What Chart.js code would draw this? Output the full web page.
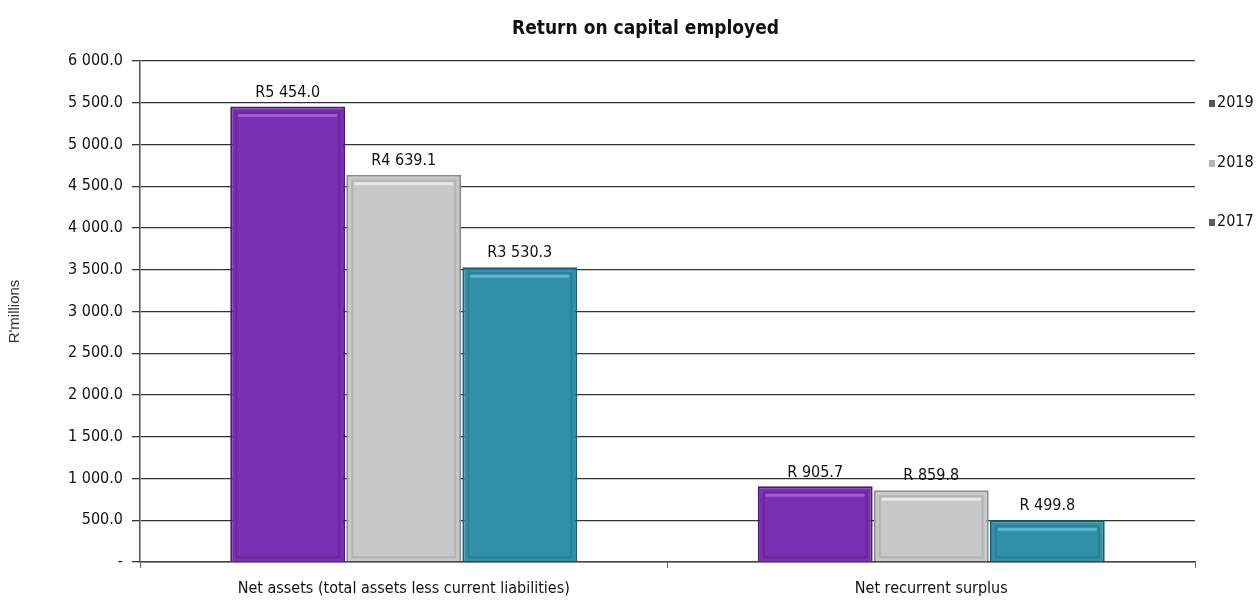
<!DOCTYPE html>
<html>
<head>
<meta charset="utf-8">
<script src="https://cdn.jsdelivr.net/npm/chart.js@4/dist/chart.umd.min.js"></script>
<style>
  html, body { margin: 0; padding: 0; background: #fff; }
  #wrap { width: 1259px; height: 603px; position: relative; }
</style>
</head>
<body>
<div id="wrap"><canvas id="roceChart"></canvas></div>
<script>
const FONT = '"Liberation Sans Narrow", "Arial Narrow", "DejaVu Sans Condensed", "Liberation Sans", sans-serif';

const categorias = ['Net assets (total assets less current liabilities)', 'Net recurrent surplus'];
const anios = ['2019', '2018', '2017'];
const valores2019 = [5454.0, 905.7];
const valores2018 = [4639.1, 859.8];
const valores2017 = [3530.3, 499.8];
const ticksY = [0, 500, 1000, 1500, 2000, 2500, 3000, 3500, 4000, 4500, 5000, 5500, 6000];

// relleno, borde oscuro, brillo
const colores = {
  '2019': { fill: '#7a30b2', border: '#4a1876', light: '#a45ad6', legend: '#555555' },
  '2018': { fill: '#c8c8c8', border: '#8c8c8c', light: '#e8e8e8', legend: '#b5b5b5' },
  '2017': { fill: '#3390ab', border: '#1b5e70', light: '#5fb8d2', legend: '#5a5a5a' }
};

function formatMiles(v) {
  const [ent, dec] = v.toFixed(1).split('.');
  return ent.replace(/\B(?=(\d{3})+(?!\d))/g, ' ') + '.' + dec;
}
function formatRand(v) {
  return v >= 1000 ? 'R' + formatMiles(v) : 'R ' + formatMiles(v);
}

const seriesData = [valores2019, valores2018, valores2017];

// título centrado un poco a la izquierda del área del gráfico
const tituloPlugin = {
  id: 'tituloPlugin',
  afterDraw(chart) {
    const { ctx, chartArea } = chart;
    ctx.save();
    ctx.font = 'bold 19px ' + FONT;
    ctx.fillStyle = '#111';
    ctx.textAlign = 'center';
    ctx.textBaseline = 'middle';
    ctx.fillText('Return on capital employed', (chartArea.left + chartArea.right) / 2 - 22, 29);
    ctx.restore();
  }
};

// bisel de las barras + etiquetas de valor
const barrasPlugin = {
  id: 'barrasPlugin',
  afterDatasetsDraw(chart) {
    const { ctx } = chart;
    chart.data.datasets.forEach((ds, i) => {
      const meta = chart.getDatasetMeta(i);
      const c = colores[ds.label];
      meta.data.forEach((bar, j) => {
        const left = bar.x - bar.width / 2;
        const right = bar.x + bar.width / 2;
        const top = bar.y;
        const bottom = bar.base;
        ctx.save();
        // brillo superior
        ctx.strokeStyle = c.light;
        ctx.lineWidth = 3;
        ctx.beginPath();
        ctx.moveTo(left + 8, top + 9);
        ctx.lineTo(right - 8, top + 9);
        ctx.stroke();
        // marco interior
        ctx.strokeStyle = c.border;
        ctx.globalAlpha = 0.35;
        ctx.lineWidth = 2;
        ctx.strokeRect(left + 6, top + 6, right - left - 12, bottom - top - 10);
        ctx.restore();

        ctx.save();
        ctx.font = '16px ' + FONT;
        ctx.fillStyle = '#111';
        ctx.textAlign = 'center';
        ctx.textBaseline = 'bottom';
        ctx.fillText(formatRand(ds.data[j]), bar.x, top - 6);
        ctx.restore();
      });
    });
  }
};

// leyenda a la derecha
const leyendaPlugin = {
  id: 'leyendaPlugin',
  afterDraw(chart) {
    const { ctx, chartArea } = chart;
    const yPos = [103, 163, 222];
    ctx.save();
    ctx.font = '16px ' + FONT;
    ctx.textBaseline = 'middle';
    ctx.textAlign = 'left';
    anios.forEach((a, i) => {
      const x = chartArea.right + 14;
      ctx.fillStyle = colores[a].legend;
      ctx.fillRect(x, yPos[i] - 3, 6, 7);
      ctx.fillStyle = '#111';
      ctx.fillText(a, x + 8, yPos[i]);
    });
    ctx.restore();
  }
};

new Chart(document.getElementById('roceChart'), {
  type: 'bar',
  data: {
    labels: categorias,
    datasets: anios.map((a, i) => ({
      label: a,
      data: seriesData[i],
      backgroundColor: colores[a].fill,
      borderColor: colores[a].border,
      borderWidth: 2,
      categoryPercentage: 0.66,
      barPercentage: 0.99
    }))
  },
  options: {
    responsive: true,
    maintainAspectRatio: false,
    animation: false,
    layout: { padding: { top: 61, right: 64, left: 0, bottom: 0 } },
    plugins: {
      legend: { display: false },
      title: { display: false },
      tooltip: { enabled: false }
    },
    scales: {
      x: {
        afterFit(scale) { scale.height = 41; },
        border: { display: true, color: '#444', width: 1.5 },
        grid: { display: true, drawOnChartArea: false, tickLength: 6, color: '#666' },
        ticks: { color: '#111', font: { family: FONT, size: 16 }, padding: 11 }
      },
      y: {
        min: 0,
        max: 6000,
        afterBuildTicks(scale) { scale.ticks = ticksY.map(v => ({ value: v })); },
        afterFit(scale) { scale.width = 140; },
        border: { display: true, color: '#555', width: 1.5 },
        grid: { color: '#333', lineWidth: 1.3, tickLength: 8 },
        ticks: {
          color: '#111',
          font: { family: FONT, size: 16 },
          padding: 9,
          callback: v => v === 0 ? '-' : formatMiles(v)
        },
        title: {
          display: true,
          text: "R'millions",
          color: '#333',
          font: { family: 'Liberation Sans, Arial, sans-serif', size: 15 },
          padding: { top: 6, bottom: 0 }
        }
      }
    }
  },
  plugins: [tituloPlugin, barrasPlugin, leyendaPlugin]
});
</script>
</body>
</html>
